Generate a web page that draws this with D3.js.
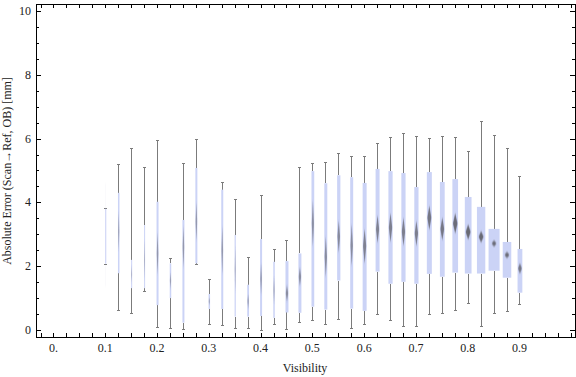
<!DOCTYPE html>
<html>
<head>
<meta charset="utf-8">
<script src="https://cdn.jsdelivr.net/npm/d3@7"></script>
<style>
  body { margin: 0; background: #fff; }
  text { font-family: "Liberation Serif", "DejaVu Serif", serif; fill: #222; }
</style>
</head>
<body>
<svg id="chart" width="576" height="377"></svg>
<script>
// visibility bins (x category positions)
const visibility = [0.1, 0.125, 0.15, 0.175, 0.2, 0.225, 0.25, 0.275, 0.3, 0.325, 0.35,
  0.375, 0.4, 0.425, 0.45, 0.475, 0.5, 0.525, 0.55, 0.575, 0.6, 0.625, 0.65, 0.675,
  0.7, 0.725, 0.75, 0.775, 0.8, 0.825, 0.85, 0.875, 0.9]

// box-whisker statistics per bin [mm]
const whiskerLow = [2.06, 0.63, 0.54, 1.23, 0.10, 0.06, 0.02, 2.06, 0.18, 0.17, 0.05,
  0.05, 0.00, 0.18, 0.02, 0.26, 0.30, 0.18, 0.33, 0.05, 0.19, 0.49, 0.30, 0.12,
  0.12, 0.49, 0.52, 0.62, 0.84, 0.12, 0.52, 0.59, 0.81]
const quartile1 = [2.08, 1.78, 1.31, 1.31, 0.78, 1.00, 0.23, 2.09, 0.66, 0.66, 0.42,
  0.42, 0.44, 0.38, 0.55, 0.54, 0.73, 0.64, 1.55, 0.67, 0.60, 1.83, 1.45, 1.51,
  1.45, 1.76, 1.67, 1.80, 1.77, 1.77, 1.86, 1.64, 1.17]
const median = [2.95, 3.10, 1.75, 2.20, 2.40, 1.55, 2.60, 3.40, 0.90, 2.50, 1.90,
  0.90, 1.60, 1.25, 1.15, 1.67, 3.34, 2.30, 2.93, 2.66, 2.63, 3.16, 3.21, 3.08,
  3.03, 3.52, 3.17, 3.34, 3.07, 2.92, 2.71, 2.35, 1.93]
const quartile3 = [3.80, 4.30, 2.20, 3.29, 4.02, 2.09, 3.45, 5.08, 1.13, 4.40, 2.98,
  1.42, 2.85, 2.14, 2.16, 2.40, 4.98, 4.60, 4.85, 4.79, 4.61, 5.05, 4.98, 4.92,
  4.48, 4.95, 4.64, 4.73, 4.17, 3.86, 3.17, 2.76, 2.54]
const whiskerHigh = [3.82, 5.21, 5.71, 5.11, 5.96, 2.26, 5.22, 5.98, 1.60, 4.64, 4.10,
  2.29, 4.23, 2.54, 2.82, 5.11, 5.22, 5.27, 5.54, 5.44, 5.44, 5.85, 6.04, 6.17,
  6.08, 6.01, 6.08, 6.04, 5.60, 6.56, 6.10, 5.70, 4.82]
const sampleCount = [1, 40, 24, 24, 57, 40, 57, 57, 40, 57, 30,
  50, 57, 40, 94, 94, 85, 94, 105, 94, 135, 135, 145, 145,
  145, 179, 170, 210, 260, 340, 480, 350, 170]

// axis ticks
const xTickValues = [0, 0.1, 0.2, 0.3, 0.4, 0.5, 0.6, 0.7, 0.8, 0.9]
const xTickLabels = ['0.', '0.1', '0.2', '0.3', '0.4', '0.5', '0.6', '0.7', '0.8', '0.9']
const yTickValues = [0, 2, 4, 6, 8, 10]

const xTitle = 'Visibility'
const yTitle = 'Absolute Error (Scan\u2192Ref, OB) [mm]'

const data = visibility.map((v, i) => ({
  v: v,
  lo: whiskerLow[i],
  q1: quartile1[i],
  med: median[i],
  q3: quartile3[i],
  hi: whiskerHigh[i],
  n: sampleCount[i]
}))

const frame = { left: 36, top: 4, right: 575, bottom: 337 }

const svg = d3.select('#chart')

svg.append('defs')
  .append('filter')
  .attr('id', 'soft')
  .attr('x', '-50%').attr('y', '-20%')
  .attr('width', '200%').attr('height', '140%')
  .append('feGaussianBlur')
  .attr('stdDeviation', '0.5 1.2')

const xScale = d3.scaleLinear()
  .domain([-0.0338, 1.0073])
  .range([frame.left, frame.right])
const yScale = d3.scaleLinear()
  .domain([-0.219, 10.219])
  .range([frame.bottom, frame.top])
const widthScale = d3.scalePow().exponent(0.8)
  .domain([0, 480])
  .range([0, 11])

const GRAY = '#7b7b7b'
const BOX = '#cbd3f6'
const px = v => Math.round(xScale(v)) + 0.5

// whiskers
const g = svg.append('g')

g.selectAll('line.wlo')
  .data(data)
  .join('line')
  .attr('x1', d => px(d.v)).attr('x2', d => px(d.v))
  .attr('y1', d => yScale(d.q1)).attr('y2', d => yScale(d.lo))
  .attr('stroke', GRAY)
  .attr('shape-rendering', 'crispEdges')

g.selectAll('line.whi')
  .data(data)
  .join('line')
  .attr('x1', d => px(d.v)).attr('x2', d => px(d.v))
  .attr('y1', d => yScale(d.q3)).attr('y2', d => yScale(d.hi))
  .attr('stroke', GRAY)
  .attr('shape-rendering', 'crispEdges')

const caps = data.flatMap(d => [{ v: d.v, y: d.lo }, { v: d.v, y: d.hi }])
g.selectAll('line.cap')
  .data(caps)
  .join('line')
  .attr('x1', d => px(d.v) - 1.5).attr('x2', d => px(d.v) + 1.5)
  .attr('y1', d => Math.round(yScale(d.y)) + 0.5)
  .attr('y2', d => Math.round(yScale(d.y)) + 0.5)
  .attr('stroke', GRAY)
  .attr('shape-rendering', 'crispEdges')

// boxes
const boxW = d => Math.max(1, widthScale(d.n))
g.selectAll('rect.box')
  .data(data)
  .join('rect')
  .attr('x', d => xScale(d.v) + 0.5 - boxW(d) / 2)
  .attr('width', d => boxW(d))
  .attr('y', d => yScale(d.q3))
  .attr('height', d => yScale(d.q1) - yScale(d.q3))
  .attr('fill', BOX)

// median marker (diamond spanning the median confidence interval)
g.selectAll('path.med')
  .data(data)
  .join('path')
  .attr('d', d => {
    const cx = xScale(d.v) + 0.5
    const hw = Math.min(widthScale(d.n) * 0.4, 2.5)
    const half = 1.57 * (d.q3 - d.q1) / Math.sqrt(d.n)
    const yt = yScale(d.med + half)
    const yb = yScale(d.med - half)
    const ym = yScale(d.med)
    return `M${cx},${yt}L${cx + hw},${ym}L${cx},${yb}L${cx - hw},${ym}Z`
  })
  .attr('fill', '#5e5e66')
  .attr('fill-opacity', d => Math.min(0.9, 0.3 + widthScale(d.n) * 0.1))
  .attr('filter', 'url(#soft)')

// frame
svg.append('rect')
  .attr('x', frame.left + 0.5)
  .attr('y', frame.top + 0.5)
  .attr('width', frame.right - frame.left)
  .attr('height', frame.bottom - frame.top)
  .attr('fill', 'none')
  .attr('stroke', '#000')
  .attr('shape-rendering', 'crispEdges')

// ticks on all four sides
const xMinor = d3.range(-1, 41).map(i => i * 0.025)
const yMinor = d3.range(0, 21).map(i => i * 0.5)
const ticks = svg.append('g')
  .attr('stroke', '#000')
  .attr('shape-rendering', 'crispEdges')

xMinor.forEach(t => {
  const x = px(t)
  ticks.append('line').attr('x1', x).attr('x2', x)
    .attr('y1', frame.bottom).attr('y2', frame.bottom - 4)
  ticks.append('line').attr('x1', x).attr('x2', x)
    .attr('y1', frame.top).attr('y2', frame.top + 4)
})
yMinor.forEach(t => {
  const y = Math.round(yScale(t)) + 0.5
  const len = t % 2 === 0 ? 5 : 3
  ticks.append('line').attr('x1', frame.left).attr('x2', frame.left + len)
    .attr('y1', y).attr('y2', y)
  ticks.append('line').attr('x1', frame.right).attr('x2', frame.right - len)
    .attr('y1', y).attr('y2', y)
})

// tick labels
svg.append('g')
  .selectAll('text')
  .data(xTickValues)
  .join('text')
  .attr('x', d => xScale(d))
  .attr('y', 352)
  .attr('text-anchor', 'middle')
  .attr('font-size', 12)
  .text((d, i) => xTickLabels[i])

svg.append('g')
  .selectAll('text')
  .data(yTickValues)
  .join('text')
  .attr('x', 31)
  .attr('y', d => yScale(d) + 4)
  .attr('text-anchor', 'end')
  .attr('font-size', 12)
  .text(d => d)

// axis titles
svg.append('text')
  .attr('x', 305)
  .attr('y', 372)
  .attr('text-anchor', 'middle')
  .attr('font-size', 12)
  .text(xTitle)

svg.append('text')
  .attr('transform', 'translate(11,171) rotate(-90)')
  .attr('text-anchor', 'middle')
  .attr('font-size', 12)
  .text(yTitle)
</script>
</body>
</html>
